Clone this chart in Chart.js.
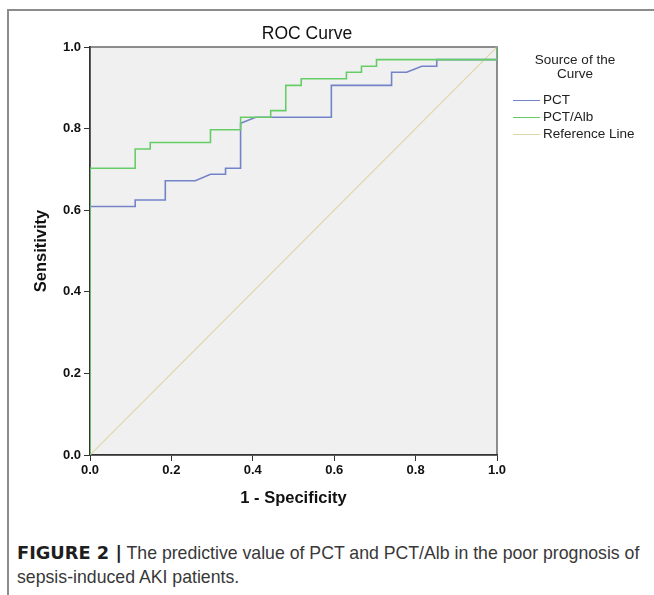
<!DOCTYPE html>
<html>
<head>
<meta charset="utf-8">
<script src="https://cdn.jsdelivr.net/npm/chart.js@4/dist/chart.umd.min.js"></script>
<style>
  body { margin: 0; width: 654px; height: 595px; overflow: hidden; background: #fff; position: relative; font-family: 'Liberation Sans', Arial, sans-serif; }
  #frame { position: absolute; left: 7px; top: 9px; width: 700px; height: 700px; border-left: 2px solid #8c8c8c; border-top: 2px solid #8c8c8c; }
  #box { position: absolute; left: 0; top: 0; width: 614px; height: 520px; }
  #title { position: absolute; left: 207px; top: 22px; width: 200px; text-align: center; font-size: 17.5px; line-height: 22px; color: #111; }
  #legTitle { position: absolute; left: 515px; top: 53px; width: 120px; text-align: center; font-size: 13.5px; line-height: 13.5px; color: #222; }
  .item { position: absolute; left: 513px; font-size: 13.5px; line-height: 16px; color: #222; }
  .item span { display: inline-block; width: 27px; height: 1.6px; vertical-align: middle; margin-right: 3px; }
  #caption { position: absolute; left: 17px; top: 541px; width: 660px; font-size: 17.7px; line-height: 24px; color: #383838; white-space: nowrap; }
  #caption b { color: #1e1e1e; font-family: 'DejaVu Sans', sans-serif; font-size: 17.8px; }
</style>
</head>
<body>
<div id="frame"></div>
<div id="box"><canvas id="chart"></canvas></div>
<div id="title">ROC Curve</div>
<div id="legTitle">Source of the<br>Curve</div>
<div class="item" style="top:92px"><span style="background:#7383c8"></span>PCT</div>
<div class="item" style="top:109px"><span style="background:#66cd66"></span>PCT/Alb</div>
<div class="item" style="top:126px"><span style="background:#ddd6a6"></span>Reference Line</div>
<div id="caption"><b>FIGURE 2 |</b> The predictive value of PCT and PCT/Alb in the poor prognosis of<br>sepsis-induced AKI patients.</div>
<script>
// ROC coordinates (1 - specificity, sensitivity)
const pctX = [0, 0, 0.111, 0.111, 0.185, 0.185, 0.259, 0.296, 0.333, 0.333, 0.370, 0.370, 0.407, 0.593, 0.593, 0.741, 0.741, 0.778, 0.815, 0.852, 0.852, 1, 1];
const pctY = [0, 0.609, 0.609, 0.625, 0.625, 0.672, 0.672, 0.688, 0.688, 0.703, 0.703, 0.813, 0.828, 0.828, 0.906, 0.906, 0.938, 0.938, 0.953, 0.953, 0.969, 0.969, 1];

const albX = [0, 0, 0.111, 0.111, 0.148, 0.148, 0.296, 0.296, 0.370, 0.370, 0.444, 0.444, 0.481, 0.481, 0.519, 0.519, 0.630, 0.630, 0.667, 0.667, 0.704, 0.704, 1, 1];
const albY = [0, 0.703, 0.703, 0.750, 0.750, 0.766, 0.766, 0.797, 0.797, 0.828, 0.828, 0.844, 0.844, 0.906, 0.906, 0.922, 0.922, 0.938, 0.938, 0.953, 0.953, 0.969, 0.969, 1];

const refX = [0, 1];
const refY = [0, 1];

const tickValues = [0, 0.2, 0.4, 0.6, 0.8, 1.0];

function toPoints(xs, ys) {
  return xs.map((x, i) => ({ x: x, y: ys[i] }));
}

// grey plot background + frame
const plotBg = {
  id: 'plotBg',
  beforeDraw(chart) {
    const a = chart.chartArea;
    const ctx = chart.ctx;
    ctx.save();
    ctx.fillStyle = '#f0f0f0';
    ctx.fillRect(a.left, a.top, a.width, a.height);
    ctx.strokeStyle = '#6a6a6a';
    ctx.lineWidth = 1.5;
    ctx.strokeRect(a.left, a.top, a.width, a.height);
    ctx.restore();
  }
};

Chart.defaults.font.family = "'Liberation Sans', Arial, sans-serif";
Chart.defaults.color = '#111';

const ctx = document.getElementById('chart').getContext('2d');
new Chart(ctx, {
  type: 'scatter',
  data: {
    datasets: [
      { label: 'PCT', data: toPoints(pctX, pctY), showLine: true, borderColor: '#7383c8', borderWidth: 1.6, pointRadius: 0, order: 2 },
      { label: 'PCT/Alb', data: toPoints(albX, albY), showLine: true, borderColor: '#66cd66', borderWidth: 1.6, pointRadius: 0, order: 1 },
      { label: 'Reference Line', data: toPoints(refX, refY), showLine: true, borderColor: '#ddd6a6', borderWidth: 1.2, pointRadius: 0, order: 3 }
    ]
  },
  options: {
    responsive: true,
    maintainAspectRatio: false,
    animation: false,
    layout: { padding: { left: 0, top: 47, right: 117, bottom: 5 } },
    plugins: {
      legend: { display: false },
      tooltip: { enabled: false },
      title: { display: false }
    },
    scales: {
      x: {
        type: 'linear', min: 0, max: 1,
        afterFit(s) { s.height = 60; },
        afterBuildTicks(s) { s.ticks = tickValues.map(v => ({ value: v })); },
        ticks: { callback: v => v.toFixed(1), font: { size: 13, weight: 'bold' }, padding: 2, maxRotation: 0 },
        grid: { drawOnChartArea: false, drawTicks: true, tickLength: 6, color: '#333' },
        border: { color: '#333', width: 1.5 },
        title: { display: true, text: '1 - Specificity', font: { size: 16.5, weight: 'bold' }, padding: { bottom: 7 } }
      },
      y: {
        type: 'linear', min: 0, max: 1,
        afterFit(s) { s.width = 90; },
        afterBuildTicks(s) { s.ticks = tickValues.map(v => ({ value: v })); },
        ticks: { callback: v => v.toFixed(1), font: { size: 13, weight: 'bold' }, padding: 3 },
        grid: { drawOnChartArea: false, drawTicks: true, tickLength: 6, color: '#333' },
        border: { color: '#333', width: 1.5 },
        title: { display: true, text: 'Sensitivity', font: { size: 16.5, weight: 'bold' }, padding: { top: 32 } }
      }
    }
  },
  plugins: [plotBg]
});
</script>
</body>
</html>
